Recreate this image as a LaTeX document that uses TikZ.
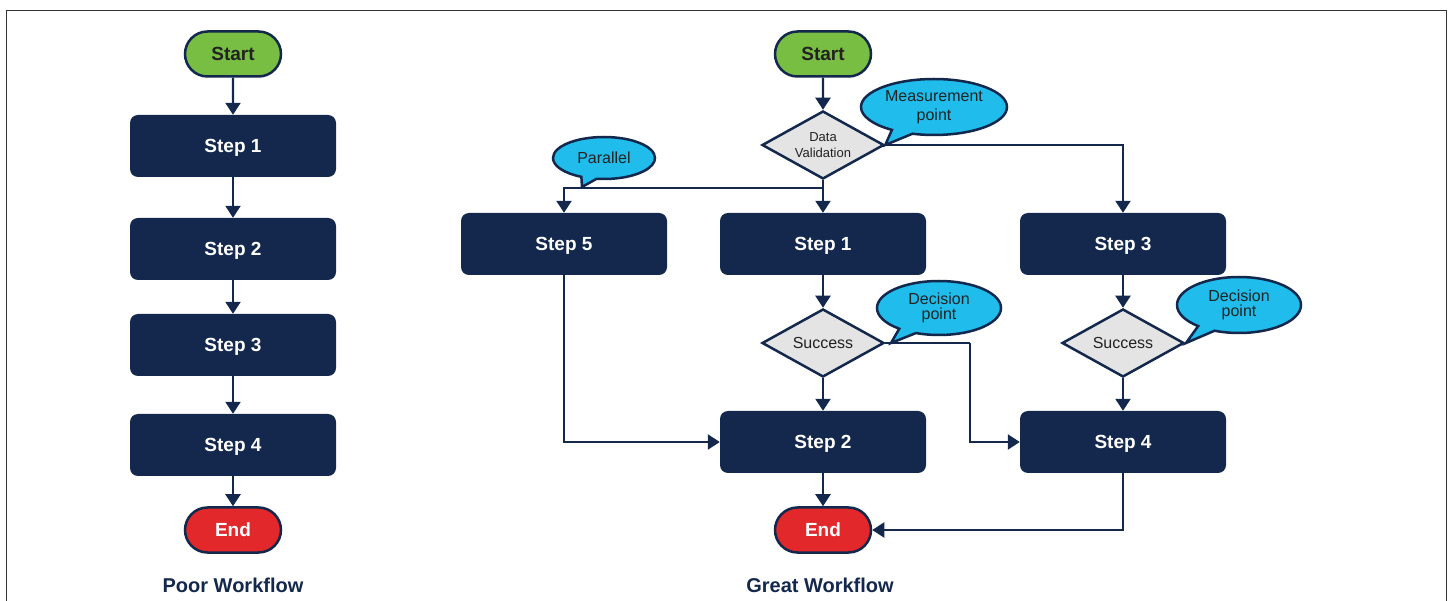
\documentclass[tikz,border=0pt]{standalone}
\usepackage{fontspec}
\setmainfont{Liberation Sans}
\usetikzlibrary{shapes.geometric,shapes.misc,shapes.callouts,arrows.meta}
\definecolor{navyc}{HTML}{13284C}
\definecolor{greenc}{HTML}{78BE43}
\definecolor{redc}{HTML}{E2282B}
\definecolor{cyanc}{HTML}{1FBCEC}
\definecolor{greyc}{HTML}{E4E4E4}
\definecolor{darktext}{HTML}{222222}
\begin{document}
\begin{tikzpicture}[x=1pt,y=-1pt,
  stepbox/.style={rectangle,rounded corners=8pt,fill=navyc,text=white,
    minimum width=206pt,minimum height=62pt,inner sep=0pt,text depth=0pt,
    font=\fontsize{19}{22}\selectfont\bfseries},
  term/.style={rounded rectangle,draw=navyc,line width=2.5pt,
    minimum width=96pt,minimum height=45pt,inner sep=0pt,
    font=\fontsize{19}{22}\selectfont\bfseries},
  dec/.style={diamond,aspect=1.74,draw=navyc,fill=greyc,line width=2.5pt,
    minimum width=122pt,minimum height=68pt,inner sep=0pt,text=darktext,align=center},
  bubble/.style={ellipse callout,draw=navyc,fill=cyanc,line width=2.5pt,
    inner sep=0pt,text=darktext,align=center,callout pointer arc=18},
  arr/.style={draw=navyc,line width=2.2pt,-{Triangle[width=15pt,length=12pt]}},
  conn/.style={draw=navyc,line width=2.2pt},
  wftitle/.style={text=navyc,font=\fontsize{20}{24}\selectfont\bfseries},
  frame/.style={draw=black!80,line width=1.5pt}
]
\useasboundingbox (0,0) rectangle (1452,601);
\draw[frame] (6.5,601) |- (1446.5,10.5) -- (1446.5,601);

% Poor workflow
\node[term,fill=greenc,text=darktext] (ls) at (233,54) {Start};
\node[stepbox] (l1) at (233,146) {Step 1};
\node[stepbox] (l2) at (233,249) {Step 2};
\node[stepbox] (l3) at (233,345) {Step 3};
\node[stepbox] (l4) at (233,445) {Step 4};
\node[term,fill=redc,text=white] (le) at (233,530) {End};
\node[wftitle] (lt) at (233,585) {Poor Workflow};
\draw[arr] (ls) -- (l1);
\draw[arr] (l1) -- (l2);
\draw[arr] (l2) -- (l3);
\draw[arr] (l3) -- (l4);
\draw[arr] (l4) -- (le);

% Great workflow
\node[term,fill=greenc,text=darktext] (rs) at (823,54) {Start};
\node[dec,font=\fontsize{13}{16}\selectfont] (dv) at (823,145) {Data\\Validation};
\node[stepbox] (r5) at (564,244) {Step 5};
\node[stepbox] (r1) at (823,244) {Step 1};
\node[stepbox] (r3) at (1123,244) {Step 3};
\node[dec,font=\fontsize{16}{18}\selectfont] (s1) at (823,343) {Success};
\node[dec,font=\fontsize{16}{18}\selectfont] (s2) at (1123,343) {Success};
\node[stepbox] (r2) at (823,442) {Step 2};
\node[stepbox] (r4) at (1123,442) {Step 4};
\node[term,fill=redc,text=white] (re) at (823,530) {End};
\node[wftitle] (rt) at (820,585) {Great Workflow};

\coordinate (br) at (823,188);
\coordinate (k1) at (970,343);

\draw[arr] (rs) -- (dv);
\draw[arr] (dv) -- (r1);
\draw[arr] (br) -| (r5);
\draw[arr] (dv.east) -| (r3);
\draw[arr] (r1) -- (s1);
\draw[arr] (s1) -- (r2);
\draw[arr] (r5) |- (r2);
\draw[conn] (s1.east) -- (k1);
\draw[arr] (k1) |- (r4);
\draw[arr] (r3) -- (s2);
\draw[arr] (s2) -- (r4);
\draw[arr] (r2) -- (re);
\draw[arr] (r4) |- (re);

% Callouts
\node[bubble,minimum width=146pt,minimum height=56pt,
  font=\fontsize{16}{19}\selectfont,
  callout absolute pointer={(dv.east)}] (mp) at (934,107) {Measurement\\point};
\node[bubble,minimum width=102pt,minimum height=42pt,
  font=\fontsize{16}{18}\selectfont,
  callout absolute pointer={(582,187)}] (pp) at (604,158) {Parallel};
\node[bubble,minimum width=124pt,minimum height=54pt,
  font=\fontsize{16}{15}\selectfont,
  callout absolute pointer={(891,343)}] (dp1) at (939,308) {Decision\\point};
\node[bubble,minimum width=124pt,minimum height=56pt,
  font=\fontsize{16}{15}\selectfont,
  callout absolute pointer={(1186,343)}] (dp2) at (1239,305) {Decision\\point};
\end{tikzpicture}
\end{document}
